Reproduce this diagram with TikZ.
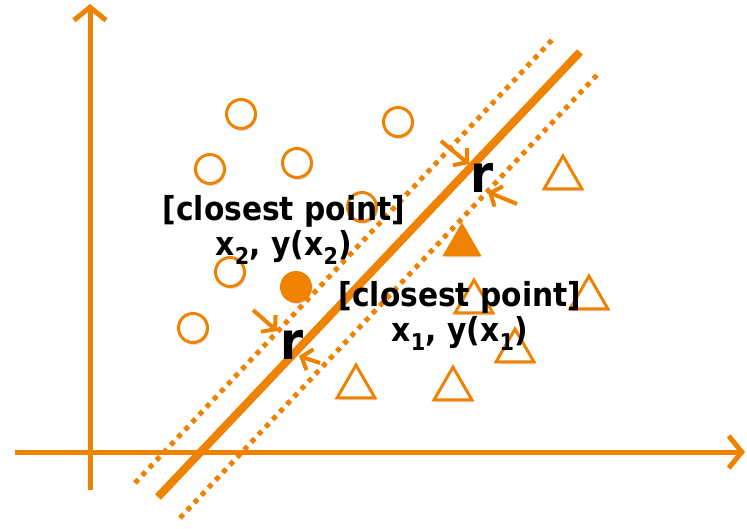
\documentclass[tikz,border=0pt]{standalone}
\usepackage{fontspec}
\newfontfamily\lblfont{DejaVu Sans Condensed}
\usetikzlibrary{arrows.meta,shapes.geometric,shadows}
\definecolor{Orange}{HTML}{EF8200}
\tikzset{
  sample/.style={circle,draw=Orange,line width=3pt,fill=white,minimum size=29pt,inner sep=0pt},
  tri/.style={regular polygon,regular polygon sides=3,draw=Orange,line width=3pt,fill=white,minimum size=43.9pt,inner sep=0pt},
  shadowed/.style={drop shadow={shadow xshift=1.5pt,shadow yshift=-2.5pt,opacity=.25}},
  axisline/.style={draw=Orange,line width=5pt,-{Straight Barb[length=13pt,width=32pt]}},
  hyper/.style={draw=Orange,line width=8pt},
  margin/.style={draw=Orange,line width=5pt,dash pattern=on 5pt off 5.4pt},
  rarrow/.style={draw=Orange,line width=4pt,-{Straight Barb[length=9pt,width=22pt]}},
  ptlabel/.style={font=\lblfont\bfseries\fontsize{33}{35}\selectfont,align=center,inner sep=0pt},
  rlabel/.style={font=\lblfont\bfseries\fontsize{52}{52}\selectfont,inner sep=0pt}
}
\begin{document}
\begin{tikzpicture}[x=1pt,y=-1pt]
  \useasboundingbox (0,0) rectangle (747,528);

  % axes
  \coordinate (xstart) at (15,452);
  \coordinate (xend) at (745,452);
  \coordinate (ystart) at (90,490);
  \coordinate (yend) at (90,4);
  \draw[axisline] (xstart) -- (xend);
  \draw[axisline] (ystart) -- (yend);

  % class o and class triangle samples
  \foreach \x/\y [count=\i] in {241/114,398/122,210/169,297/163,362/207,230/272,193/328}{
    \node[sample,shadowed] (c\i) at (\x,\y) {};
  }
  \node[sample,shadowed,fill=Orange] (cnear) at (296,287) {};
  \foreach \x/\y [count=\i] in {563/178,589/298,474/302,515/351,356/387,453/389}{
    \node[tri,shadowed] (t\i) at (\x,\y) {};
  }
  \node[tri,shadowed,fill=Orange,minimum size=39.3pt] (tnear) at (462,245) {};

  % separating line and margins
  \coordinate (h1) at (158,497);
  \coordinate (h2) at (580,52);
  \coordinate (u1) at (135,483);
  \coordinate (u2) at (552,40);
  \coordinate (l1) at (180,518);
  \coordinate (l2) at (597,75);
  \draw[margin] (u1) -- (u2);
  \draw[margin] (l1) -- (l2);
  \draw[hyper] (h1) -- (h2);

  % labels
  \node[ptlabel] (lab2) at (284,230) {[closest point]\\x\textsubscript{2}, y(x\textsubscript{2})};
  \node[ptlabel] (lab1) at (460,316) {[closest point]\\x\textsubscript{1}, y(x\textsubscript{1})};
  \node[rlabel] (r1) at (482,178) {r};
  \node[rlabel] (r2) at (292,345) {r};

  % margin width arrows
  \coordinate (a1) at (441,141);
  \coordinate (a1tip) at (469,164);
  \coordinate (a2) at (517,204);
  \coordinate (a2tip) at (488,192);
  \coordinate (b1) at (253,310);
  \coordinate (b1tip) at (277,331);
  \coordinate (b2) at (320,363);
  \coordinate (b2tip) at (299,356);
  \draw[rarrow] (a1) -- (a1tip);
  \draw[rarrow] (a2) -- (a2tip);
  \draw[rarrow] (b1) -- (b1tip);
  \draw[rarrow] (b2) -- (b2tip);
\end{tikzpicture}
\end{document}
